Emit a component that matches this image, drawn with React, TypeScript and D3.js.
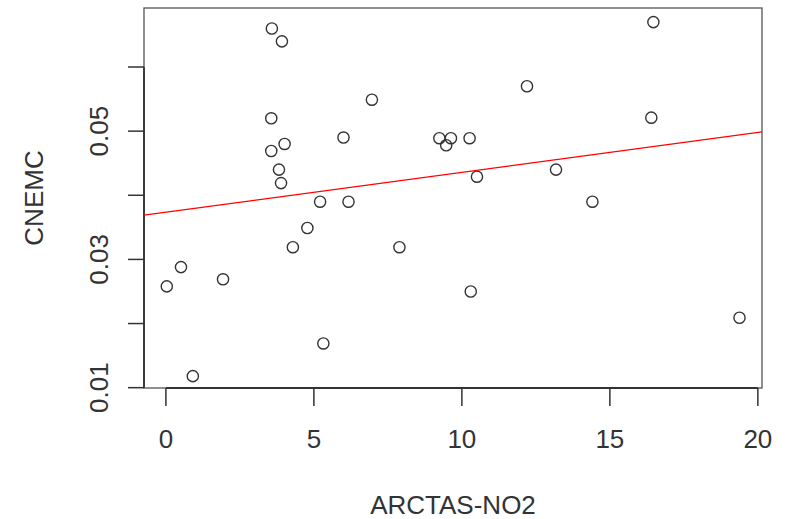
import React from "react";
import * as d3 from "d3";

// ARCTAS-NO2 vs CNEMC
const arctasNO2 = [
  0.03, 0.51, 0.91, 1.93, 3.58, 3.92, 3.56, 4.01, 3.56, 3.82, 3.89, 5.21, 4.78, 4.29,
  6.0, 6.17, 5.32, 6.96, 9.24, 9.63, 9.47, 10.26, 12.2, 10.51, 7.89, 10.3, 13.18,
  14.41, 16.4, 16.47, 19.38,
];
const cnemc = [
  0.0258, 0.0288, 0.0118, 0.0269, 0.066, 0.064, 0.052, 0.048, 0.0469, 0.044, 0.0419,
  0.039, 0.0349, 0.0319, 0.049, 0.039, 0.0169, 0.0549, 0.0489, 0.0489, 0.0478, 0.0489,
  0.057, 0.0429, 0.0319, 0.025, 0.044, 0.039, 0.0521, 0.067, 0.0209,
];

// fitted line (abline)
const fitIntercept = 0.03736;
const fitSlope = 0.000622;

const xTicks = [0, 5, 10, 15, 20];
const yTicks = [0.01, 0.02, 0.03, 0.04, 0.05, 0.06];
const yTickLabels = ["0.01", "", "0.03", "", "0.05", ""];

const xTitle = "ARCTAS-NO2";
const yTitle = "CNEMC";

const width = 789;
const height = 519;
const box = { left: 144, top: 8, right: 762, bottom: 388 };

const App = () => {
  const x = d3.scaleLinear().domain([-0.74, 20.14]).range([box.left, box.right]);
  const y = d3.scaleLinear().domain([0.00995, 0.0692]).range([box.bottom, box.top]);

  const points = arctasNO2.map((v, i) => ({ x: v, y: cnemc[i] }));
  const [x0, x1] = x.domain();
  const fitLine = d3
    .line<number>()
    .x((d) => x(d))
    .y((d) => y(fitIntercept + fitSlope * d));

  const font = "'Liberation Sans', Arial, Helvetica, sans-serif";
  const ink = "#333";
  const fs = 26;

  return (
    <svg
      width={width}
      height={height}
      style={{ position: "absolute", left: 0, top: 0, background: "white" }}
      fontFamily={font}
    >
      <defs>
        <clipPath id="plotclip">
          <rect x={box.left} y={box.top} width={box.right - box.left} height={box.bottom - box.top} />
        </clipPath>
      </defs>

      {/* plot box */}
      <rect
        x={box.left}
        y={box.top}
        width={box.right - box.left}
        height={box.bottom - box.top}
        fill="none"
        stroke="#555"
        strokeWidth={1.3}
      />

      {/* x axis */}
      <line x1={x(xTicks[0])} x2={x(xTicks[xTicks.length - 1])} y1={box.bottom} y2={box.bottom} stroke={ink} strokeWidth={1.8} />
      {xTicks.map((t) => (
        <g key={"xt" + t}>
          <line x1={x(t)} x2={x(t)} y1={box.bottom} y2={box.bottom + 18} stroke={ink} strokeWidth={1.5} />
          <text x={x(t)} y={448} textAnchor="middle" fontSize={fs} fill={ink}>
            {t}
          </text>
        </g>
      ))}

      {/* y axis */}
      <line x1={box.left} x2={box.left} y1={y(yTicks[0])} y2={y(yTicks[yTicks.length - 1])} stroke={ink} strokeWidth={1.8} />
      {yTicks.map((t, i) => (
        <g key={"yt" + t}>
          <line x1={box.left - 16} x2={box.left} y1={y(t)} y2={y(t)} stroke={ink} strokeWidth={1.5} />
          {yTickLabels[i] && (
            <text
              transform={`translate(108,${y(t)}) rotate(-90)`}
              textAnchor="middle"
              fontSize={fs}
              fill={ink}
            >
              {yTickLabels[i]}
            </text>
          )}
        </g>
      ))}

      {/* axis titles */}
      <text x={(box.left + box.right) / 2} y={514} textAnchor="middle" fontSize={fs} fill={ink}>
        {xTitle}
      </text>
      <text
        transform={`translate(43,${(box.top + box.bottom) / 2}) rotate(-90)`}
        textAnchor="middle"
        fontSize={fs}
        fill={ink}
      >
        {yTitle}
      </text>

      {/* points */}
      {points.map((p, i) => (
        <circle key={i} cx={x(p.x)} cy={y(p.y)} r={5.6} fill="none" stroke={ink} strokeWidth={1.4} />
      ))}

      {/* regression line */}
      <path d={fitLine([x0, x1]) || ""} fill="none" stroke="#f00" strokeWidth={1.2} clipPath="url(#plotclip)" />
    </svg>
  );
};

export default App;
